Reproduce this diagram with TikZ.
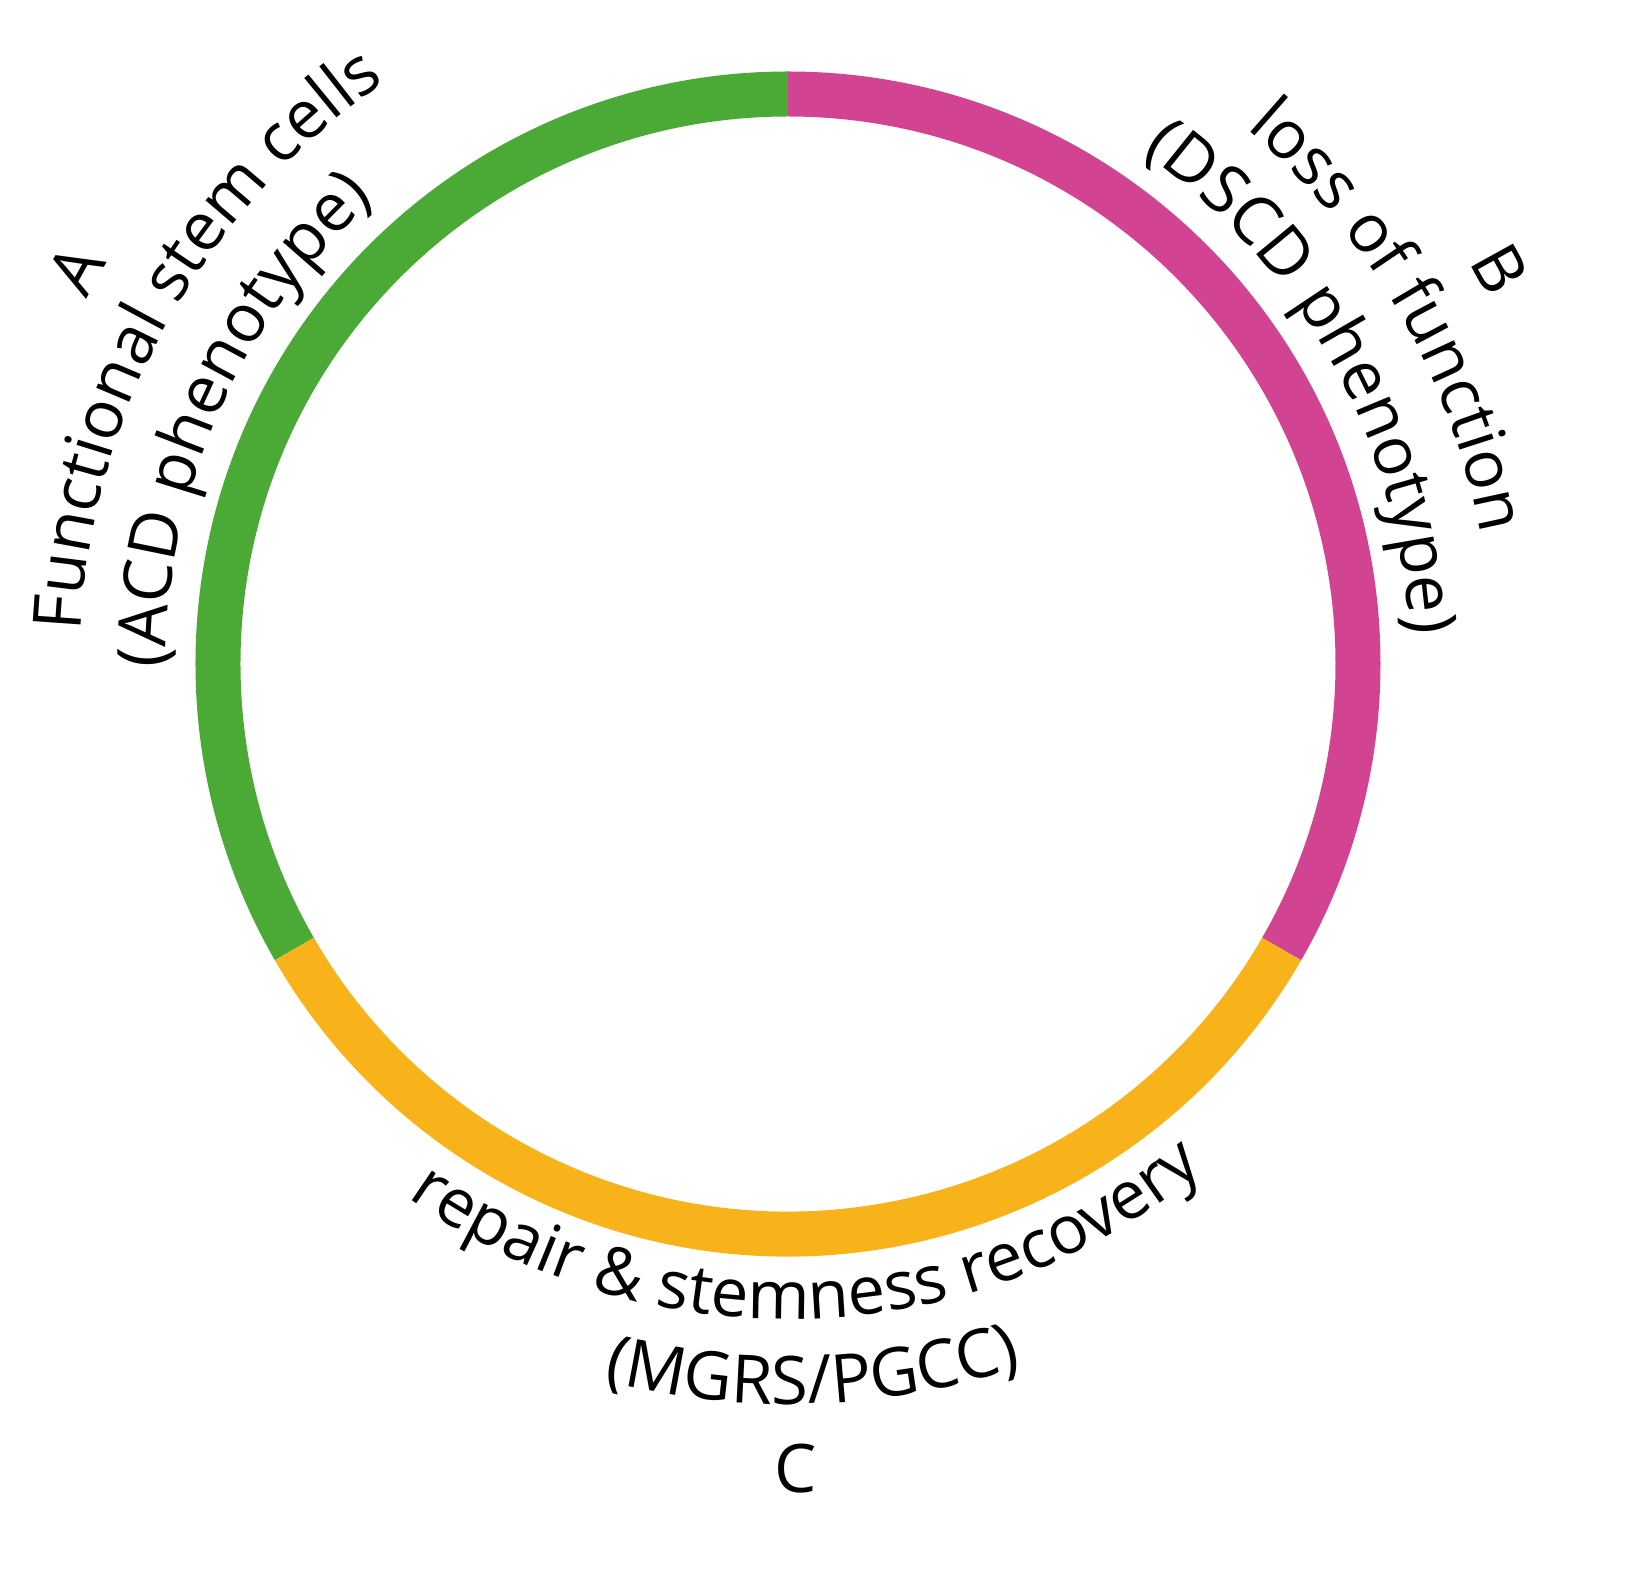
\documentclass[tikz,border=0pt]{standalone}
\usepackage{fontspec}
\setmainfont{Open Sans}
\usetikzlibrary{decorations.text}
\definecolor{cgreen}{HTML}{4BAA35}
\definecolor{cmag}{HTML}{D24392}
\definecolor{cyel}{HTML}{F8B31A}
\newcommand\bigfont{\fontsize{67pt}{69pt}\selectfont}
\tikzset{ring/.style={line width=45pt},
 curv/.style={decorate,decoration={text along path,text align=center,text={#1}}}}
\begin{document}
\begin{tikzpicture}
\useasboundingbox (-788pt,-910pt) rectangle (843pt,664pt);
\coordinate (o) at (0,0);
\draw[ring,cgreen] (90:570pt) arc(90:210:570pt);
\draw[ring,cmag] (90:570pt) arc(90:-30:570pt);
\draw[ring,cyel] (-30:570pt) arc(-30:-150:570pt);
% A
\path[curv={|\bigfont|A}] (201:790pt) arc(201:101:790pt);
\path[curv={|\bigfont|Functional stem cells}] (203:708pt) arc(203:99:708pt);
\path[curv={|\bigfont|(ACD phenotype)}] (206:622pt) arc(206:106:622pt);
% B
\path[curv={|\bigfont|B}] (79:790pt) arc(79:-21:790pt);
\path[curv={|\bigfont|loss of function}] (80:705pt) arc(80:-20:705pt);
\path[curv={|\bigfont|(DSCD phenotype)}] (79:622pt) arc(79:-21:622pt);
% C
\path[curv={|\bigfont|repair {\&} stemness recovery}] (-148:655pt) arc(-148:-28:655pt);
\path[curv={|\bigfont|(MGRS/PGCC)}] (-148:740pt) arc(-148:-28:740pt);
\node[font=\bigfont,anchor=base] (c) at (8pt,-828pt) {C};
\end{tikzpicture}
\end{document}
